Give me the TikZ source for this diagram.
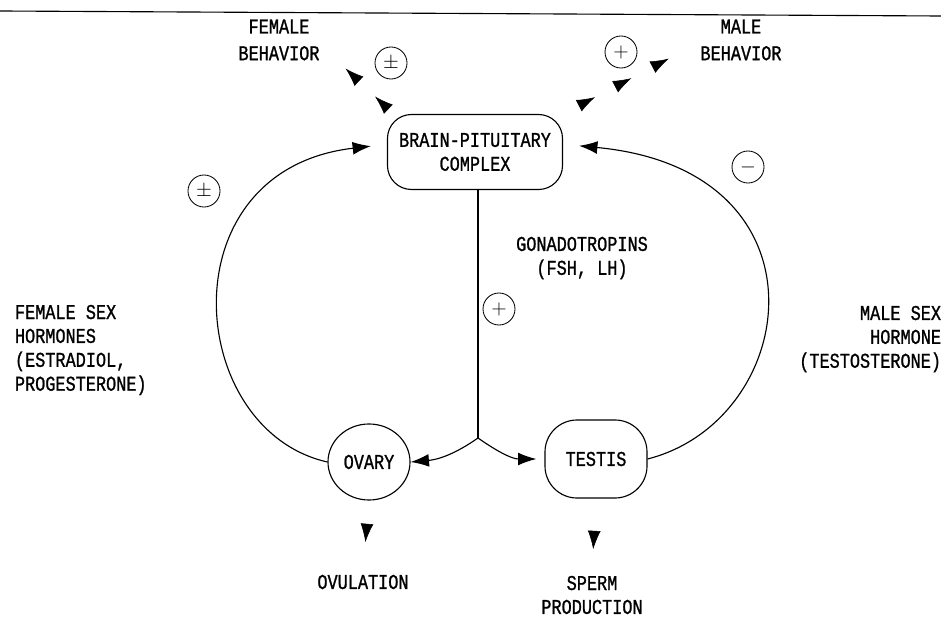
\documentclass[tikz,border=0pt]{standalone}
\usepackage{fontspec}
\setmainfont{Liberation Mono}[FakeStretch=0.8, FakeBold=1]
\usetikzlibrary{arrows.meta,decorations.markings,shapes.geometric}

\tikzset{hd/.tip={Latex[length=4.6mm,width=3.2mm]}}

\begin{document}
\begin{tikzpicture}[x=0.025cm, y=-0.025cm,
  every node/.style={font=\fontsize{15}{17}\selectfont},
  organ/.style={draw, line width=0.8pt, align=center},
  sign/.style={circle, draw, line width=0.6pt, inner sep=0pt, minimum size=8mm, font=\Large},
  txt/.style={align=center},
  feedback/.style={-hd, line width=0.8pt, shorten >=4mm},
  drive/.style={-hd, line width=0.8pt}
]
\useasboundingbox (0,0) rectangle (941,617);
\draw[line width=0.8pt] (0,11) -- (941,16);

% glands
\node[organ, rounded corners=6mm, minimum width=4.375cm, minimum height=1.875cm] (brain) at (475,152) {BRAIN-PITUITARY\\COMPLEX};
\node[organ, ellipse, minimum width=2.05cm, minimum height=1.9cm, inner sep=0pt] (ovary) at (369,462) {OVARY};
\node[organ, rounded corners=8mm, minimum width=2.55cm, minimum height=1.95cm] (testis) at (596,459) {TESTIS};

% texts
\node[txt] (femb) at (279,40) {FEMALE\\[2pt]BEHAVIOR};
\node[txt] (maleb) at (741,40) {MALE\\[2pt]BEHAVIOR};
\node[txt] (gonad) at (582,258) {GONADOTROPINS\\(FSH, LH)};
\node[align=left, anchor=west] (femh) at (10,350) {FEMALE SEX\\HORMONES\\(ESTRADIOL,\\PROGESTERONE)};
\node[align=right, anchor=east] (maleh) at (946,339) {MALE SEX\\HORMONE\\(TESTOSTERONE)};
\node[txt] (ovul) at (363,582) {OVULATION};
\node[txt] (sperm) at (592,595) {SPERM\\PRODUCTION};

% signs
\node[sign] (s1) at (391,63) {$\pm$};
\node[sign] (s2) at (204,191) {$\pm$};
\node[sign] (s3) at (621,52) {$+$};
\node[sign] (s4) at (499,309) {$+$};
\node[sign] (s5) at (748,167) {$-$};

% gonadotropins
\coordinate (fork) at (478,438);
\draw[line width=0.8pt] (brain.south -| fork) -- (fork);
\draw[drive] (fork) to[out=215, in=5] (ovary.east);
\draw[drive] (fork) to[out=-35, in=180] ([xshift=-2mm]testis.west);

% feedback loops
\draw[feedback] (ovary.west) .. controls (185,430) and (165,170) .. (brain.175);
\draw[feedback] (testis.east) .. controls (800,420) and (835,170) .. (brain.5);

% behaviour and output heads
\coordinate (fbtip) at (345,68);
\coordinate (mbtip) at (670,58);
\path[decorate, decoration={markings,
  mark=at position 0.38 with {\arrow{hd}}, mark=at position 0.99 with {\arrow{hd}}}]
  (brain.155) -- (fbtip);
\path[decorate, decoration={markings,
  mark=at position 0.3 with {\arrow{hd}}, mark=at position 0.64 with {\arrow{hd}},
  mark=at position 0.99 with {\arrow{hd}}}]
  (brain.north east) -- (mbtip);
\path[decorate, decoration={markings, mark=at position 0.6 with {\arrow{hd}}}]
  (ovary.south) -- (ovul.north);
\path[decorate, decoration={markings, mark=at position 0.7 with {\arrow{hd}}}]
  (testis.south) -- (sperm.north);
\end{tikzpicture}
\end{document}
